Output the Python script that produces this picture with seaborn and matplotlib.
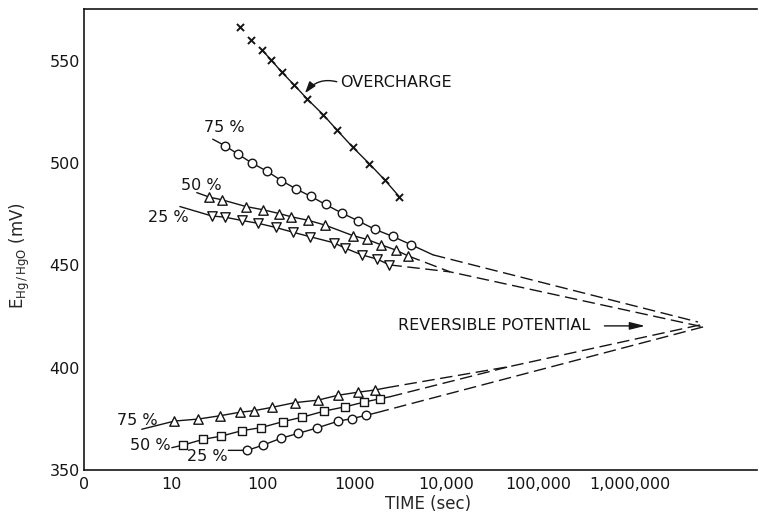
import matplotlib
matplotlib.use("Agg")
import matplotlib.pyplot as plt
import seaborn as sns

# ---- measured data: E(Hg/HgO) in mV versus time in s ----
# overcharge decay
oc_t = [56.5, 74.5, 97.5, 123, 161, 219, 306, 458, 641, 958, 1454, 2160, 3100]
oc_E = [566.2, 560.0, 555.3, 550.4, 544.4, 538.2, 531.2, 523.5, 516.2, 507.7, 499.6, 491.5, 483.4]

# decay after charge (upper branch)
up75_t = [38.8, 54.2, 75.9, 110.6, 159.6, 230.7, 333.6, 484, 723, 1086, 1665, 2617, 4121]
up75_E = [508.4, 504.2, 500.0, 496.0, 491.4, 487.3, 483.7, 479.7, 475.6, 471.8, 467.6, 464.1, 460.1]
up50_t = [26.2, 35.9, 65.8, 101.6, 150.7, 204.6, 312, 474, 961, 1362, 1959, 2805, 3846]
up50_E = [483.3, 482.0, 478.7, 477.1, 475.3, 473.7, 472.0, 469.7, 464.5, 462.7, 460.0, 457.5, 454.6]
up25_t = [27.8, 38.8, 59.0, 89.5, 138, 216, 326, 596, 789, 1201, 1778, 2404]
up25_E = [474.1, 473.5, 471.9, 470.5, 468.5, 466.1, 464.0, 461.0, 458.4, 455.1, 453.0, 450.2]

# recovery after discharge (lower branch)
lo75_t = [10.9, 19.9, 34.2, 56.1, 80.9, 126, 223, 398, 658, 1094, 1690]
lo75_E = [373.9, 374.9, 376.5, 378.2, 379.0, 380.6, 382.9, 384.1, 386.5, 388.0, 389.1]
lo50_t = [13.6, 22.5, 34.8, 59.4, 95.7, 165, 270, 470, 796, 1283, 1902]
lo50_E = [362.2, 365.0, 366.5, 369.2, 370.7, 373.6, 375.8, 378.8, 380.9, 383.2, 384.8]
lo25_t = [67.9, 100, 158, 244, 388, 658, 935, 1340]
lo25_E = [359.6, 362.1, 365.5, 367.9, 370.5, 373.8, 375.1, 376.7]

# ends of the hand-drawn fit lines (t, E)
up75_fit = [(28.5, 511.6), (7194, 455.1)]
up50_fit = [(19.1, 485.5), None]
up25_fit = [(12.5, 478.7), None]
lo75_fit = [(4.79, 369.9), (2250, 390.2)]
lo50_fit = [(10.2, 360.9), (2443, 385.8)]
lo25_fit = [(42.2, 359.6), (1750, 378.0)]

# dashed extrapolations towards the reversible potential (t, E vertices)
ext_up75 = [(7194, 455.1), (5.58e6, 422.3)]
ext_up50 = [(3846, 454.6), (11040, 446.8), (6.34e6, 419.9)]
ext_up25 = [(2404, 450.2), (11040, 446.8)]
ext_lo75 = [(2250, 390.2), (49800, 400.6), (6.65e6, 421.4)]
ext_lo50 = [(2443, 385.8), (49800, 400.6)]
ext_lo25 = [(1750, 378.0), (6.34e6, 419.9)]

# axis ticks
x_ticks = [10, 100, 1000, 1e4, 1e5, 1e6, 1e7]
x_tick_labels = ["10", "100", "1000", "10,000", "100,000", "1,000,000", ""]
y_ticks = [350, 400, 450, 500, 550]

INK = "#151515"

sns.set_theme(style="white")
plt.rcParams["font.family"] = ["DejaVu Sans"]
plt.rcParams["mathtext.fontset"] = "dejavusans"
plt.rcParams["text.color"] = INK

fig = plt.figure(figsize=(7.59, 5.19), dpi=100)
ax = fig.add_axes([84 / 759, 49 / 519, 673 / 759, 461 / 519])
ax.set_xscale("log")
x_min, x_max = 10 ** 0.051, 10 ** 7.39
ax.set_xlim(x_min, x_max)
ax.set_ylim(350, 575.2)

DASH = (0, (9, 4))


def fit_line(t, E, fit):
    start, end = fit
    xs = [start[0]] + list(t) + ([end[0]] if end else [])
    ys = [start[1]] + list(E) + ([end[1]] if end else [])
    sns.lineplot(x=xs, y=ys, ax=ax, color=INK, lw=1.0, sort=False,
                 estimator=None, legend=False, zorder=2)


def dashed(path):
    sns.lineplot(x=[p[0] for p in path], y=[p[1] for p in path], ax=ax,
                 color=INK, lw=1.0, linestyle=DASH, sort=False,
                 estimator=None, legend=False, zorder=1)


def points(t, E, marker, size):
    sns.scatterplot(x=t, y=E, ax=ax, marker=marker, s=size, color="white",
                    edgecolor=INK, linewidth=1.0, legend=False, zorder=3)


# overcharge curve
sns.lineplot(x=oc_t[2:], y=oc_E[2:], ax=ax, color=INK, lw=1.0, sort=False,
             estimator=None, legend=False, zorder=2)
sns.scatterplot(x=oc_t, y=oc_E, ax=ax, marker="x", s=26, color=INK,
                linewidth=1.4, legend=False, zorder=3)

# upper branch
fit_line(up75_t, up75_E, up75_fit)
fit_line(up50_t, up50_E, up50_fit)
fit_line(up25_t, up25_E, up25_fit)
points(up75_t, up75_E, "o", 38)
points(up50_t, up50_E, "^", 46)
points(up25_t, up25_E, "v", 46)

# lower branch
fit_line(lo75_t, lo75_E, lo75_fit)
fit_line(lo50_t, lo50_E, lo50_fit)
fit_line(lo25_t, lo25_E, lo25_fit)
points(lo75_t, lo75_E, "^", 46)
points(lo50_t, lo50_E, "s", 36)
points(lo25_t, lo25_E, "o", 38)

for path in (ext_up75, ext_up50, ext_up25, ext_lo75, ext_lo50, ext_lo25):
    dashed(path)

# curve labels
FS = 11.5
lab = dict(fontsize=FS, ha="center", va="center")
ax.text(37.9, 517.2, "75 %", **lab)
ax.text(21.2, 488.8, "50 %", **lab)
ax.text(9.27, 473.2, "25 %", **lab)
ax.text(4.26, 374.4, "75 %", **lab)
ax.text(5.91, 362.2, "50 %", **lab)
ax.text(24.7, 356.4, "25 %", **lab)

ax.annotate("OVERCHARGE", xy=(289, 534.1), xytext=(697, 539.2),
            fontsize=FS, ha="left", va="center",
            arrowprops=dict(arrowstyle="-|>,head_length=0.6,head_width=0.2",
                            connectionstyle="arc3,rad=0.35", color=INK,
                            lw=1.0, relpos=(0, 0.5), shrinkA=0, shrinkB=0))
ax.annotate("REVERSIBLE POTENTIAL", xy=(1.476e6, 420.4), xytext=(3.706e5, 420.4),
            fontsize=FS, ha="right", va="center",
            arrowprops=dict(arrowstyle="-|>,head_length=0.8,head_width=0.2",
                            color=INK, lw=1.0, relpos=(1, 0.5),
                            shrinkA=8, shrinkB=0))

# axes styling
for side in ("left", "bottom", "top"):
    ax.spines[side].set_color(INK)
    ax.spines[side].set_linewidth(1.2)
ax.spines["right"].set_visible(False)

ax.set_xticks([x_min] + x_ticks)
ax.set_xticklabels(["0"] + x_tick_labels)
ax.xaxis.set_minor_locator(matplotlib.ticker.NullLocator())
ax.set_yticks(y_ticks)
ax.tick_params(axis="both", direction="in", length=9, width=1.1, color=INK,
               labelsize=FS, labelcolor=INK)
ax.tick_params(axis="x", pad=5)
ax.tick_params(axis="y", pad=3)

ax.set_xlabel("TIME (sec)", fontsize=12)
ax.xaxis.set_label_coords((428 - 84) / 673, (470 - 495) / 461)
ax.set_ylabel(r"E$_{\mathrm{Hg\,/\,HgO}}$ (mV)", fontsize=12)
ax.yaxis.set_label_coords((32 - 84) / 673, (470 - 256) / 461)

fig.savefig("out.png", dpi=100)
